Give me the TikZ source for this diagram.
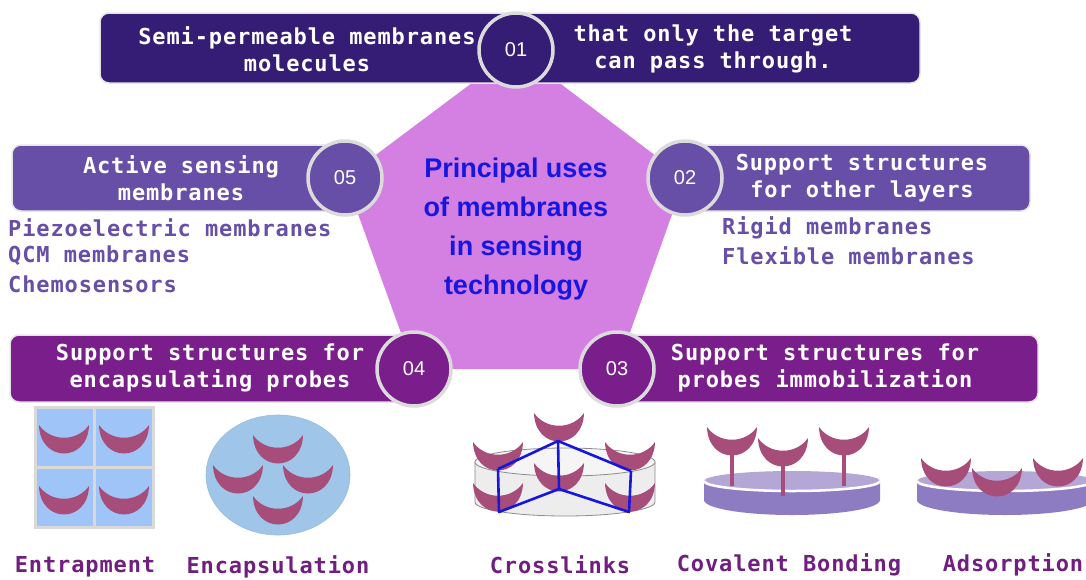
\documentclass[tikz,border=0pt]{standalone}
\usepackage{fontspec}
\setmainfont{Liberation Sans}
\newfontfamily\monob{DejaVu Sans Mono}[LetterSpace=4]

\definecolor{deepindigo}{HTML}{351C75}
\definecolor{midviolet}{HTML}{674EA7}
\definecolor{plum}{RGB}{122,30,140}
\definecolor{orchid}{RGB}{212,128,226}
\definecolor{probe}{HTML}{A64D79}
\definecolor{gelblue}{HTML}{9FC5F8}
\definecolor{capsblue}{HTML}{9FC5E8}
\definecolor{disktop}{HTML}{B4A7D6}
\definecolor{diskside}{HTML}{8E7CC3}
\definecolor{titleblue}{RGB}{22,22,222}
\definecolor{labelplum}{RGB}{112,30,128}

\begin{document}
\begin{tikzpicture}[x=1pt,y=-1pt,
	box/.style={rounded corners=9pt, draw=black!10, line width=1.5pt, inner sep=0pt},
	badge/.style={circle, minimum size=74pt, draw=black!14, line width=3.5pt, text=white, font=\fontsize{20}{20}\selectfont},
	head/.style={text=white, align=center, font=\monob\bfseries\fontsize{22}{27.5}\selectfont},
	item/.style={text=midviolet, anchor=west, inner sep=0pt, font=\monob\bfseries\fontsize{22}{22}\selectfont},
	caption/.style={text=labelplum, font=\monob\bfseries\fontsize{22}{22}\selectfont},
	crescent/.pic={\fill[probe] (-25,0) .. controls (-24,38) and (24,38) .. (25,0) .. controls (13,17) and (-13,17) .. cycle;}]
			\useasboundingbox (0,0) rectangle (1086,579);
			\coordinate (p1) at (516,50);
			\coordinate (p2) at (685,178);
			\coordinate (p3) at (617,369);
			\coordinate (p4) at (414,369);
			\coordinate (p5) at (345,178);
			\fill[orchid] (p1) -- (p2) -- (p3) -- (p4) -- (p5) -- cycle;
			\node[box, fill=deepindigo, minimum width=820pt, minimum height=70pt] (b1) at (510,48) {};
			\node[box, fill=midviolet, minimum width=333pt, minimum height=66pt] (b5) at (178.5,178) {};
			\node[box, fill=midviolet, minimum width=345pt, minimum height=66pt] (b2) at (857.5,178) {};
			\node[box, fill=plum, minimum width=404pt, minimum height=67pt] (b4) at (212,368.5) {};
			\node[box, fill=plum, minimum width=421pt, minimum height=67pt] (b3) at (827.5,368.5) {};
			\node[badge, fill=deepindigo] (n1) at (p1) {01};
			\node[badge, fill=midviolet] (n2) at (p2) {02};
			\node[badge, fill=plum] (n3) at (p3) {03};
			\node[badge, fill=plum] (n4) at (p4) {04};
			\node[badge, fill=midviolet] (n5) at (p5) {05};
			\node[head] (t1a) at (307,49) {Semi-permeable membranes\\molecules};
			\node[head] (t1b) at (713,49) {that only the target\\can pass through.};
			\node[head] (t5) at (181,178) {Active sensing\\membranes};
			\node[head] (t2) at (862,178) {Support structures\\for other layers};
			\node[head] (t4) at (210,368) {Support structures for\\encapsulating probes};
			\node[head] (t3) at (825,368) {Support structures for\\probes immobilization};
			\node[text=titleblue, align=center, font=\bfseries\fontsize{27}{39}\selectfont] (title) at (516,229) {Principal uses\\of membranes\\in sensing\\technology};
			\foreach \txt [count=\i] in {Piezoelectric membranes, QCM membranes, Chemosensors}
				\node[item] (la\i) at (8,200+28*\i) {\txt};
			\foreach \txt [count=\i] in {Rigid membranes, Flexible membranes}
				\node[item] (lb\i) at (722,200+28*\i) {\txt};
			% entrapment
			\fill[gelblue] (35,407) rectangle (153,527);
			\draw[black!15, line width=3pt] (35,407) rectangle (153,527) (94,407) -- (94,527) (35,467) -- (153,467);
			\foreach \px/\py in {64/425, 124/425, 64/486, 124/486}
				\pic at (\px,\py) {crescent};
			% encapsulation
			\filldraw[fill=capsblue, draw=capsblue!85!gray, line width=0.6pt] (278,475) ellipse [x radius=72pt, y radius=60pt];
			\foreach \px/\py in {278/435, 238/465, 308/465, 278/496}
				\pic at (\px,\py) {crescent};
			% crosslinks
			\fill[black!7] (475,462) -- (475,502) arc[start angle=180, end angle=360, x radius=90pt, y radius=14pt] -- (655,462) -- cycle;
			\draw[black!45, line width=0.8pt] (475,462) -- (475,502) arc[start angle=180, end angle=360, x radius=90pt, y radius=14pt] -- (655,462);
			\filldraw[fill=black!4, draw=black!45, line width=0.8pt] (565,462) ellipse [x radius=90pt, y radius=14pt];
			\foreach \px/\py in {559/413, 498/442, 630/442, 559/463, 498/483, 630/483}
				\pic at (\px,\py) {crescent};
			\coordinate (ca) at (558,441);
			\coordinate (cl) at (498,469);
			\coordinate (cr) at (631,471);
			\coordinate (cm) at (559,489);
			\coordinate (cbl) at (499,512);
			\coordinate (cbr) at (629,512);
			\draw[titleblue, line width=2.6pt, line join=round] (cl) -- (ca) -- (cr) (ca) -- (cm) (cl) -- (cbl) -- (cm) -- (cbr) -- (cr);
			% covalent bonding and adsorption
			\foreach \cx in {792,1005} {
				\fill[diskside] (\cx-88,481) -- (\cx-88,500) arc[start angle=180, end angle=360, x radius=88pt, y radius=15pt] -- (\cx+88,481) -- cycle;
				\fill[disktop] (\cx,481) ellipse [x radius=88pt, y radius=10pt];
				\draw[white, line width=2.5pt] (\cx-88,481) arc[start angle=180, end angle=360, x radius=88pt, y radius=10pt];
			}
			\foreach \sx/\sy/\ey in {732/450/486, 783/461/496, 844/450/486}
				\draw[probe, line width=4.5pt] (\sx,\sy) -- (\sx,\ey);
			\foreach \px/\py in {732/427, 783/438, 844/427, 946/458, 997/468, 1058/458}
				\pic at (\px,\py) {crescent};
			\node[caption] (c1) at (85,567) {Entrapment};
			\node[caption] (c2) at (278,567) {Encapsulation};
			\node[caption] (c3) at (560,565) {Crosslinks};
			\node[caption] (c4) at (789,565) {Covalent Bonding};
			\node[caption] (c5) at (1013,565) {Adsorption};
			\end{tikzpicture}
\end{document}
